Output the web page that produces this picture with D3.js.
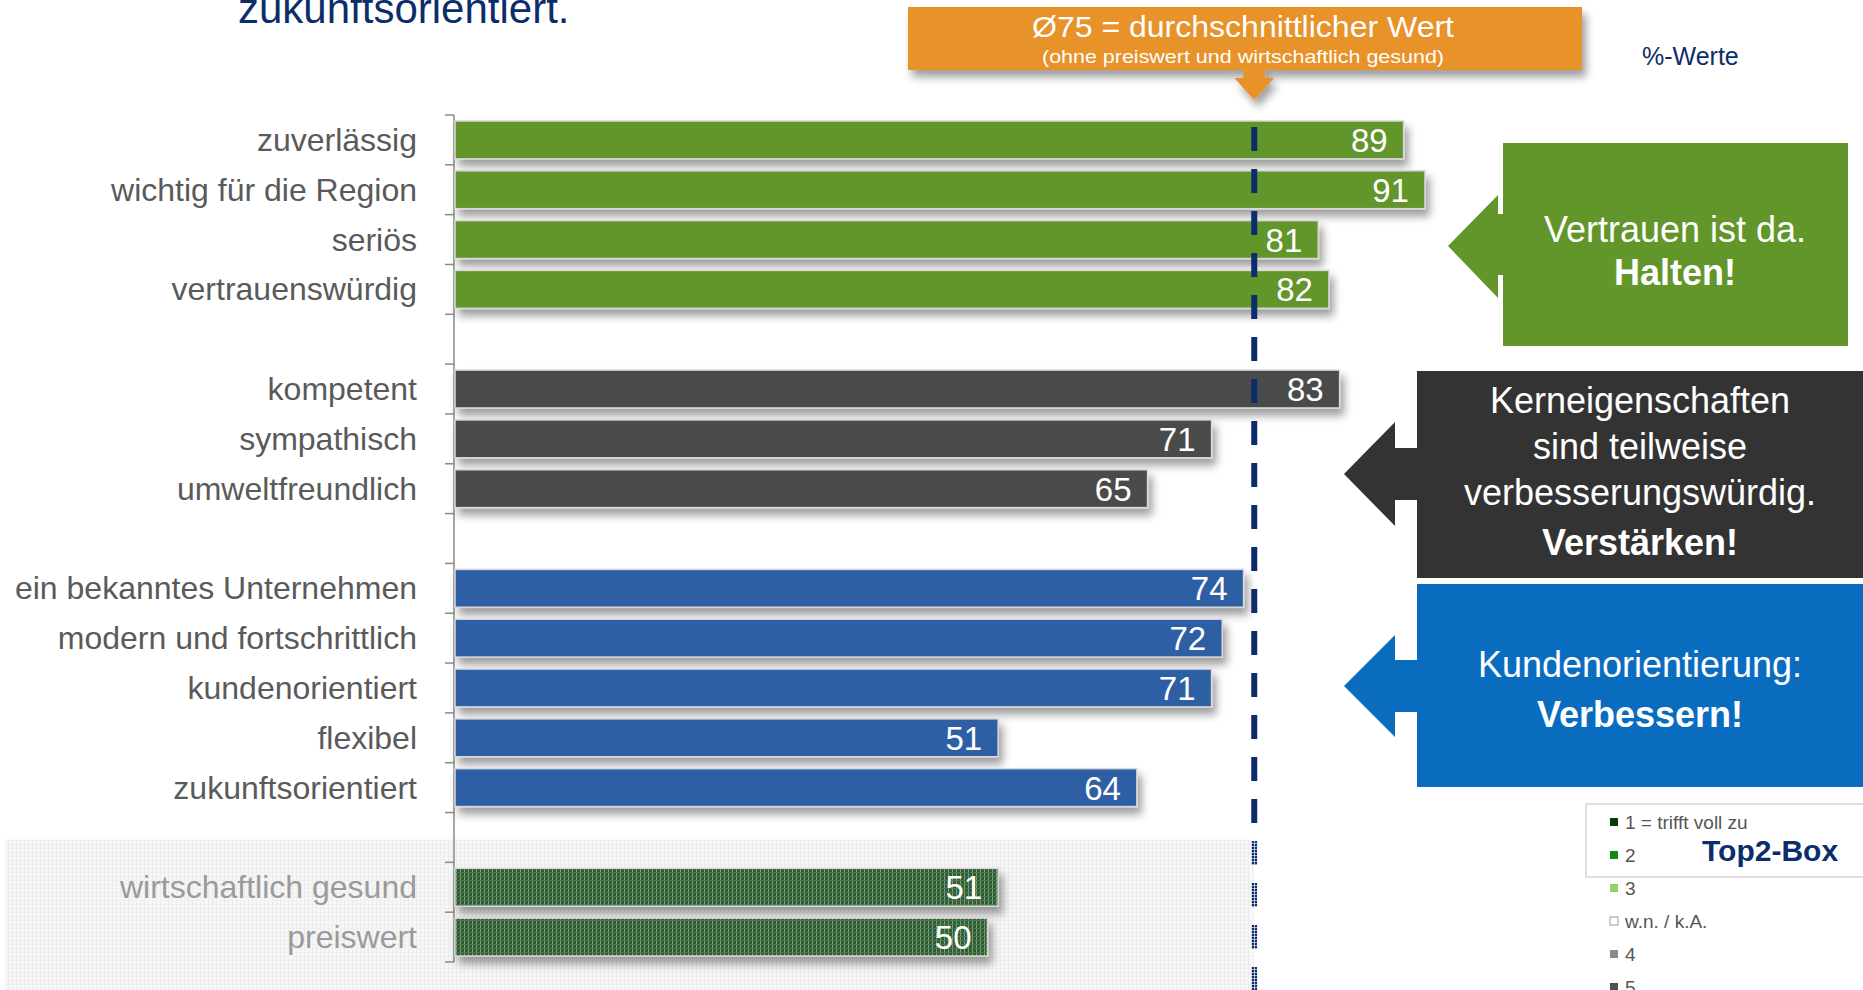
<!DOCTYPE html>
<html>
<head>
<meta charset="utf-8">
<script src="https://cdn.jsdelivr.net/npm/d3@7"></script>
<style>
  body { margin: 0; background: #fff; }
  svg { display: block; }
  text { font-family: "Liberation Sans", Arial, sans-serif; }
</style>
</head>
<body>
<svg id="chart" width="1863" height="990"></svg>
<script>
// data
const categories = ['zuverlässig', 'wichtig für die Region', 'seriös', 'vertrauenswürdig',
  'kompetent', 'sympathisch', 'umweltfreundlich',
  'ein bekanntes Unternehmen', 'modern und fortschrittlich', 'kundenorientiert', 'flexibel', 'zukunftsorientiert',
  'wirtschaftlich gesund', 'preiswert']
const values = [89, 91, 81, 82, 83, 71, 65, 74, 72, 71, 51, 64, 51, 50]
const groups = ['trust', 'trust', 'trust', 'trust', 'core', 'core', 'core',
  'customer', 'customer', 'customer', 'customer', 'customer', 'other', 'other']
const average = 75

const legendLabels = ['1 = trifft voll zu', '2', '3', 'w.n. / k.A.', '4', '5']
const calloutTrust = ['Vertrauen ist da.', 'Halten!']
const calloutCore = ['Kerneigenschaften', 'sind teilweise', 'verbesserungswürdig.', 'Verstärken!']
const calloutCustomer = ['Kundenorientierung:', 'Verbessern!']

const svg = d3.select('#chart')

/* colours */
const group_color = { trust: '#62952a', core: '#484b4b', customer: '#2f5fa5', other: 'url(#hatch)' }
const navy = '#0c2d6b'
const legend_color = ['#0b3a0b', '#0c8a16', '#8fd268', '#ffffff', '#8a8a8a', '#505050']

/* slots: insert one empty slot every time the group changes */
let slots = []
categories.forEach((c, i) => {
    if (i > 0 && groups[i] !== groups[i - 1]) slots.push('gap_' + i)
    slots.push(c)
})

const x = d3.scaleLinear().domain([0, 100]).range([454, 1521])
const y = d3.scaleBand().domain(slots).range([115, 962]).paddingInner(0.24).paddingOuter(0.12)

const data = categories.map((c, i) => ({ cat: c, v: values[i], g: groups[i] }))

/* defs: shadow, hatch, grid */
const defs = svg.append('defs')
const f = defs.append('filter').attr('id', 'shadow').attr('x', '-5%').attr('y', '-40%').attr('width', '115%').attr('height', '200%')
f.append('feDropShadow').attr('dx', 4).attr('dy', 7).attr('stdDeviation', 4)
    .attr('flood-color', '#000').attr('flood-opacity', 0.38)

const hatch = defs.append('pattern').attr('id', 'hatch').attr('width', 4).attr('height', 4).attr('patternUnits', 'userSpaceOnUse')
hatch.append('rect').attr('width', 4).attr('height', 4).attr('fill', '#2f5f30')
hatch.append('rect').attr('width', 1).attr('height', 4).attr('fill', '#7f9f80')
hatch.append('rect').attr('width', 4).attr('height', 1).attr('fill', '#4d764e')

const grid = defs.append('pattern').attr('id', 'grid').attr('width', 4).attr('height', 4).attr('patternUnits', 'userSpaceOnUse')
grid.append('rect').attr('width', 4).attr('height', 4).attr('fill', '#f7f7f7')
grid.append('rect').attr('width', 1).attr('height', 4).attr('fill', '#ececec')
grid.append('rect').attr('width', 4).attr('height', 1).attr('fill', '#efefef')

const wash = defs.append('pattern').attr('id', 'wash').attr('width', 3).attr('height', 3).attr('patternUnits', 'userSpaceOnUse')
wash.append('rect').attr('width', 1).attr('height', 3).attr('fill', '#fff').attr('opacity', 0.7)
wash.append('rect').attr('width', 3).attr('height', 1).attr('fill', '#fff').attr('opacity', 0.6)

/* greyed background for the last group */
const lastGap = slots[slots.indexOf('wirtschaftlich gesund') - 1]
const bgTop = y(lastGap) + y.bandwidth() / 2 + 2
svg.append('rect')
    .attr('x', 5).attr('y', bgTop)
    .attr('width', x(average) - 5).attr('height', 990 - bgTop)
    .attr('fill', 'url(#grid)')

/* title remnant */
svg.append('text')
    .attr('x', 238).attr('y', 23)
    .attr('fill', navy).style('font-size', '42px')
    .text('zukunftsorientiert.')

svg.append('text')
    .attr('x', 1642).attr('y', 65)
    .attr('fill', navy).style('font-size', '25px')
    .text('%-Werte')

/* axis with ticks on the band boundaries */
const step = y.step(), gapHalf = (step - y.bandwidth()) / 2
const tickYs = slots.map(s => y(s) - gapHalf).concat([y(slots[slots.length - 1]) + y.bandwidth() + gapHalf])
const axis = svg.append('g')
axis.append('line')
    .attr('x1', x(0)).attr('x2', x(0))
    .attr('y1', tickYs[0]).attr('y2', tickYs[tickYs.length - 1])
    .attr('stroke', '#8a8a8a').attr('stroke-width', 1.5)
axis.selectAll('.tick')
    .data(tickYs)
    .join('line')
    .attr('x1', x(0) - 9).attr('x2', x(0))
    .attr('y1', d => d).attr('y2', d => d)
    .attr('stroke', '#8a8a8a').attr('stroke-width', 1.5)

/* category labels */
svg.append('g')
    .selectAll('text')
    .data(data)
    .join('text')
    .attr('x', 417)
    .attr('y', d => y(d.cat) + y.bandwidth() / 2 + 11)
    .attr('text-anchor', 'end')
    .attr('fill', d => d.g === 'other' ? '#9a9a9a' : '#5a5a5a')
    .style('font-size', '32px')
    .text(d => d.cat)

/* bars */
svg.append('g')
    .selectAll('rect')
    .data(data)
    .join('rect')
    .attr('x', x(0) + 1)
    .attr('y', d => y(d.cat))
    .attr('width', d => x(d.v) - x(0) - 1)
    .attr('height', y.bandwidth())
    .attr('fill', d => group_color[d.g])
    .attr('stroke', '#d8d8d8').attr('stroke-width', 1.5)
    .attr('filter', 'url(#shadow)')

/* value labels */
svg.append('g')
    .selectAll('text')
    .data(data)
    .join('text')
    .attr('x', d => x(d.v) - 16)
    .attr('y', d => y(d.cat) + y.bandwidth() / 2 + 12)
    .attr('text-anchor', 'end')
    .attr('fill', '#fff')
    .style('font-size', '33px')
    .text(d => d.v)

/* average line */
svg.append('line')
    .attr('x1', x(average)).attr('x2', x(average))
    .attr('y1', 127).attr('y2', 990)
    .attr('stroke', navy).attr('stroke-width', 6)
    .attr('stroke-dasharray', '24 18')
svg.append('rect')
    .attr('x', x(average) - 4).attr('y', bgTop)
    .attr('width', 8).attr('height', 990 - bgTop)
    .attr('fill', 'url(#wash)')

/* orange note box */
const ax = x(average)
const note = svg.append('g').attr('filter', 'url(#shadow)')
note.append('path')
    .attr('d', `M908,7 H1582 V70 H${ax + 11} V78 H${ax + 20} L${ax},100 L${ax - 20},78 H${ax - 11} V70 H908 Z`)
    .attr('fill', '#e8922a')
svg.append('text')
    .attr('x', 1243).attr('y', 37)
    .attr('text-anchor', 'middle').attr('fill', '#fff')
    .style('font-size', '30px')
    .attr('textLength', 422).attr('lengthAdjust', 'spacingAndGlyphs')
    .text(`Ø${average} = durchschnittlicher Wert`)
svg.append('text')
    .attr('x', 1243).attr('y', 63)
    .attr('text-anchor', 'middle').attr('fill', '#fff')
    .style('font-size', '19px')
    .attr('textLength', 402).attr('lengthAdjust', 'spacingAndGlyphs')
    .text('(ohne preiswert und wirtschaftlich gesund)')

/* callout boxes: block arrow pointing left */
const callout = (box, tip, head, stem, fill, lines, cx, baselines) => {
    const [x0, y0, x1, y1] = box
    const [tx, ty] = tip
    const g = svg.append('g')
    g.append('rect').attr('x', x0).attr('y', y0).attr('width', x1 - x0).attr('height', y1 - y0).attr('fill', fill)
    g.append('path')
        .attr('d', `M${tx},${ty} L${head[0]},${head[1]} V${stem[0]} H${x0 + 1} V${stem[1]} H${head[0]} V${head[2]} Z`)
        .attr('fill', fill)
    g.selectAll('text')
        .data(lines)
        .join('text')
        .attr('x', cx)
        .attr('y', (d, i) => baselines[i])
        .attr('text-anchor', 'middle')
        .attr('fill', '#fff')
        .style('font-size', '36px')
        .style('font-weight', (d, i) => i === lines.length - 1 ? 'bold' : 'normal')
        .text(d => d)
}

callout([1503, 143, 1848, 346], [1448, 246], [1498, 195, 298], [214, 275], '#62962a', calloutTrust, 1675, [242, 285])
callout([1417, 371, 1863, 578], [1344, 474], [1395, 422, 526], [448, 500], '#333333', calloutCore, 1640, [413, 459, 505, 555])
callout([1417, 584, 1863, 787], [1344, 686], [1395, 635, 737], [660, 712], '#0a6cbf', calloutCustomer, 1640, [677, 727])

/* legend */
svg.append('rect')
    .attr('x', 1586).attr('y', 804).attr('width', 280).attr('height', 73)
    .attr('fill', '#fff').attr('stroke', '#dedede').attr('stroke-width', 2)

const legend = svg.append('g')
    .selectAll('g')
    .data(legendLabels)
    .join('g')
    .attr('transform', (d, i) => `translate(1610,${822 + i * 33})`)
legend.append('rect')
    .attr('x', 0).attr('y', -4).attr('width', 8).attr('height', 8)
    .attr('fill', (d, i) => legend_color[i])
    .attr('stroke', (d, i) => legend_color[i] === '#ffffff' ? '#999' : 'none')
legend.append('text')
    .attr('x', 15).attr('y', 7)
    .attr('fill', '#555')
    .style('font-size', '19px')
    .text(d => d)

svg.append('text')
    .attr('x', 1702).attr('y', 861)
    .attr('fill', navy)
    .style('font-size', '30px').style('font-weight', 'bold')
    .text('Top2-Box')
</script>
</body>
</html>
